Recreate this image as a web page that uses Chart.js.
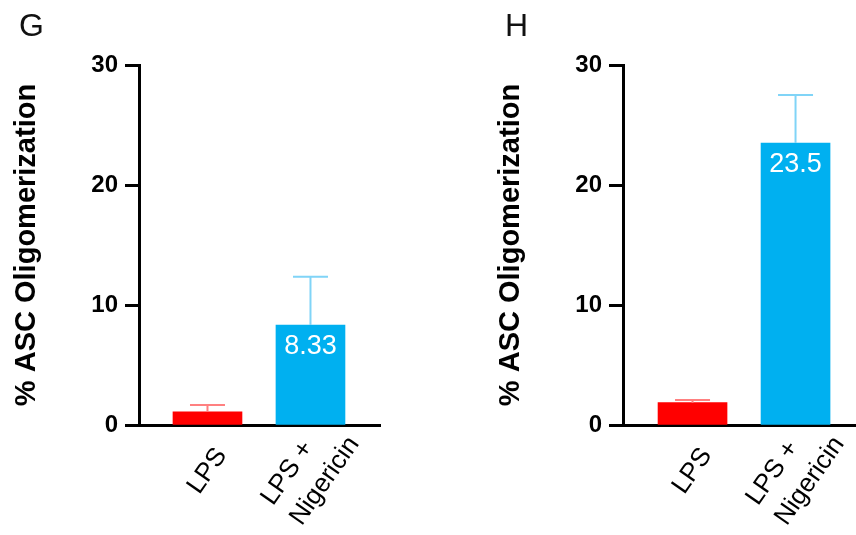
<!DOCTYPE html>
<html>
<head>
<meta charset="utf-8">
<script src="https://cdn.jsdelivr.net/npm/chart.js@4.4.0/dist/chart.umd.min.js"></script>
<style>
  html, body { margin: 0; padding: 0; background: #fff; }
  #wrap { position: relative; width: 856px; height: 535px; overflow: hidden; }
  canvas { position: absolute; top: 0; }
  .panel { position: absolute; top: 7px; font: 32px "Liberation Sans", Arial, sans-serif; color: #111; }
</style>
</head>
<body>
<div id="wrap">
  <canvas id="chartG" width="428" height="535" style="left:0"></canvas>
  <canvas id="chartH" width="428" height="535" style="left:428px"></canvas>
  <div class="panel" style="left:19px">G</div>
  <div class="panel" style="left:505px">H</div>
</div>
<script>
// categories and values
const categories = ['LPS', ['LPS +', 'Nigericin']];
const barColors = ['#ff0000', '#00b0f0'];
const errorColors = ['#ff8080', '#80d4f7'];

const gMeans = [1.1, 8.33];
const gErrors = [0.57, 4.03];
const gLabels = [null, '8.33'];

const hMeans = [1.86, 23.5];
const hErrors = [0.22, 4.0];
const hLabels = [null, '23.5'];

const yTicks = [0, 10, 20, 30];

const FONT = '"Liberation Sans", Arial, sans-serif';

// upward-only error bars (mean -> mean + SD)
const errorBars = {
  id: 'errorBars',
  afterDatasetsDraw(chart, args, opts) {
    const ctx = chart.ctx;
    const y = chart.scales.y;
    const ds = chart.data.datasets[0];
    const meta = chart.getDatasetMeta(0);
    ctx.save();
    ctx.lineWidth = 2;
    meta.data.forEach((bar, i) => {
      const v = ds.data[i].y;
      const top = y.getPixelForValue(v + opts.errors[i]);
      const base = y.getPixelForValue(v);
      ctx.strokeStyle = errorColors[i];
      ctx.beginPath();
      ctx.moveTo(bar.x, base);
      ctx.lineTo(bar.x, top);
      ctx.moveTo(bar.x - 17.5, top);
      ctx.lineTo(bar.x + 17.5, top);
      ctx.stroke();
    });
    ctx.restore();
  }
};

// white value text just under the bar top
const valueLabels = {
  id: 'valueLabels',
  afterDatasetsDraw(chart, args, opts) {
    const ctx = chart.ctx;
    const meta = chart.getDatasetMeta(0);
    ctx.save();
    ctx.font = '27px ' + FONT;
    ctx.fillStyle = '#fff';
    ctx.textAlign = 'center';
    ctx.textBaseline = 'middle';
    meta.data.forEach((bar, i) => {
      if (opts.labels[i]) ctx.fillText(opts.labels[i], bar.x, bar.y + 22);
    });
    ctx.restore();
  }
};

// rotated category labels: block centred under each tick, lines left-aligned
const categoryLabels = {
  id: 'categoryLabels',
  afterDraw(chart) {
    const ctx = chart.ctx;
    const x = chart.scales.x;
    const base = chart.chartArea.bottom;
    const lineH = 35;
    ctx.save();
    ctx.font = '26px ' + FONT;
    ctx.fillStyle = '#000';
    ctx.textAlign = 'left';
    ctx.textBaseline = 'middle';
    categories.forEach((c, i) => {
      const lines = [].concat(c);
      const w = Math.max(...lines.map(t => ctx.measureText(t).width));
      ctx.save();
      ctx.translate(x.getPixelForValue(i), base + 46);
      ctx.rotate(-55 * Math.PI / 180);
      lines.forEach((t, k) => {
        ctx.fillText(t, -w / 2, (k - (lines.length - 1) / 2) * lineH);
      });
      ctx.restore();
    });
    ctx.restore();
  }
};

function drawPanel(canvasId, means, errors, labels, xMin, xMax, padLeft, padRight) {
  const ctx = document.getElementById(canvasId).getContext('2d');
  return new Chart(ctx, {
    type: 'bar',
    data: {
      datasets: [{
        data: means.map((v, i) => ({ x: i, y: v })),
        backgroundColor: barColors,
        borderWidth: 0,
        barThickness: 69
      }]
    },
    plugins: [errorBars, valueLabels, categoryLabels],
    options: {
      responsive: false,
      animation: false,
      layout: { padding: { left: padLeft, right: padRight, top: 65, bottom: 0 } },
      plugins: {
        legend: { display: false },
        tooltip: { enabled: false },
        errorBars: { errors: errors },
        valueLabels: { labels: labels }
      },
      scales: {
        x: {
          type: 'linear',
          offset: false,
          min: xMin,
          max: xMax,
          grid: { display: false, drawTicks: false, offset: false },
          border: { display: true, color: '#000', width: 3 },
          afterBuildTicks: s => { s.ticks = categories.map((c, i) => ({ value: i })); },
          afterFit: s => { s.height = 110; s.paddingLeft = 0; s.paddingRight = 0; },
          ticks: { display: false }
        },
        y: {
          min: 0,
          max: 30,
          afterBuildTicks: s => { s.ticks = yTicks.map(v => ({ value: v })); },
          afterFit: s => { s.width = 139; s.paddingTop = 0; s.paddingBottom = 0; },
          grid: { drawOnChartArea: false, drawTicks: true, tickLength: 14, tickWidth: 3, tickColor: '#000' },
          border: { display: true, color: '#000', width: 3 },
          ticks: { padding: 7, color: '#000', font: { size: 24, weight: 'bold', family: FONT } },
          title: {
            display: true,
            text: '% ASC Oligomerization',
            color: '#000',
            font: { size: 29, weight: 'bold', family: FONT },
            padding: { top: 10, bottom: 0 }
          }
        }
      }
    }
  });
}

drawPanel('chartG', gMeans, gErrors, gLabels, -0.665, 1.675, 0, 48);
drawPanel('chartH', hMeans, hErrors, hLabels, -0.675, 1.587, 56, 0);
</script>
</body>
</html>
